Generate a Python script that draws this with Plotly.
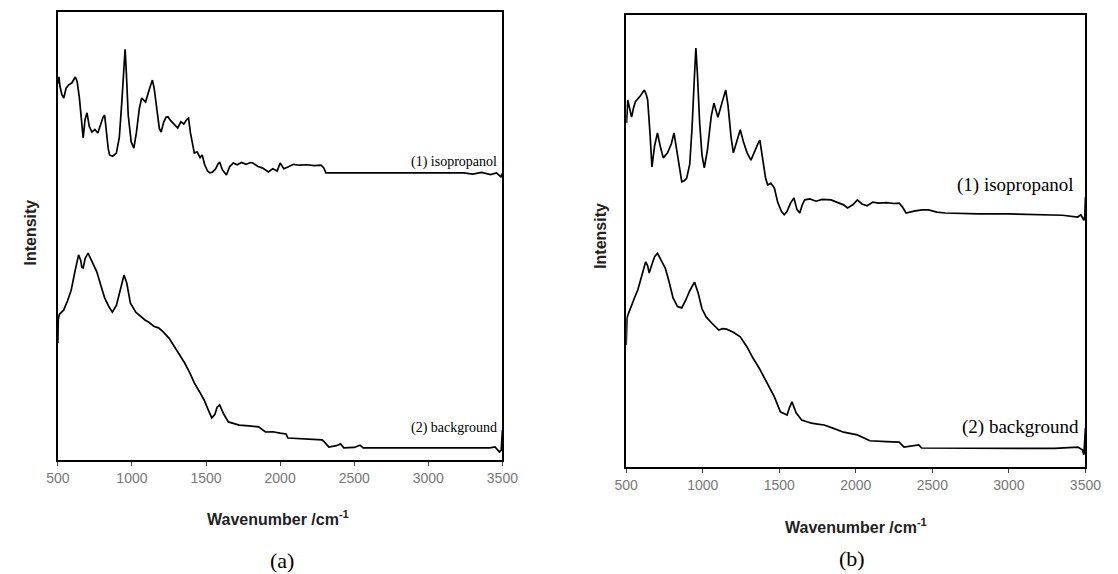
import plotly.graph_objects as go

# ---------------- data ----------------
# Panel (a)
wn_a_iso = [500, 507, 515, 528, 540, 556, 572, 595, 618, 630, 645, 660, 671, 684, 697, 712, 730, 750, 770, 790,
            805, 816, 828, 840, 849, 870, 895, 915, 932, 945, 954, 963, 975, 995, 1013, 1030, 1050, 1066, 1080,
            1092, 1115, 1138, 1150, 1165, 1185, 1197, 1215, 1230, 1243, 1260, 1280, 1300, 1309, 1330, 1350,
            1370, 1382, 1395, 1410, 1421, 1440, 1460, 1474, 1490, 1510, 1526, 1545, 1565, 1580, 1592, 1610,
            1625, 1638, 1660, 1684, 1710, 1740, 1770, 1800, 1816, 1850, 1880, 1921, 1950, 1980, 2000, 2025,
            2053, 2090, 2130, 2180, 2230, 2276, 2295, 2309, 3237, 3300, 3360, 3420, 3460, 3490, 3500]
int_a_iso = [84.0, 85.5, 83.3, 81.5, 80.8, 83.0, 83.7, 84.2, 85.5, 84.5, 81.0, 75.0, 71.9, 76.0, 77.5, 74.5, 73.2,
             73.8, 73.0, 75.0, 76.5, 77.0, 73.0, 69.5, 68.1, 67.8, 68.5, 72.0, 80.0, 88.0, 91.7, 86.0, 77.0, 71.0,
             69.6, 73.0, 78.5, 80.8, 80.2, 79.9, 82.5, 84.8, 83.0, 79.0, 74.0, 73.2, 75.5, 76.5, 76.6, 75.8, 75.0,
             74.3, 74.1, 75.5, 75.0, 76.0, 76.3, 73.0, 69.8, 68.5, 68.8, 67.5, 68.1, 66.0, 64.5, 64.1, 64.3, 65.0,
             66.0, 66.5, 64.8, 64.0, 63.6, 65.5, 66.3, 65.9, 66.4, 66.0, 66.4, 66.3, 65.5, 65.2, 64.3, 65.0, 64.5,
             66.3, 65.0, 65.4, 66.0, 65.8, 65.9, 65.7, 65.8, 65.2, 64.1, 64.1, 63.8, 64.2, 63.7, 64.1, 63.2, 64.0]

wn_a_bg = [500, 503, 510, 540, 565, 590, 615, 640, 655, 662, 671, 685, 704, 720, 740, 763, 790, 816, 845, 868,
           895, 920, 947, 965, 990, 1026, 1060, 1090, 1112, 1150, 1180, 1211, 1250, 1289, 1320, 1355, 1390, 1421,
           1455, 1487, 1515, 1539, 1560, 1575, 1592, 1620, 1651, 1690, 1724, 1790, 1855, 1901, 1950, 2000, 2040,
           2053, 2150, 2283, 2300, 2329, 2380, 2408, 2430, 2500, 2539, 2560, 3000, 3414, 3450, 3480, 3492, 3500]
int_a_bg = [26.1, 31.3, 32.5, 33.5, 35.5, 37.9, 42.0, 45.8, 44.5, 43.0, 42.9, 45.0, 46.2, 45.0, 43.8, 42.0, 39.0,
            36.2, 34.2, 33.0, 34.5, 38.0, 41.3, 39.5, 35.0, 33.0, 32.0, 31.2, 30.8, 29.8, 29.5, 28.6, 27.2, 25.2,
            23.5, 21.7, 19.5, 17.2, 15.3, 13.4, 11.2, 9.4, 10.2, 11.8, 12.3, 10.2, 8.5, 8.2, 7.8, 7.6, 7.4, 6.25,
            6.3, 6.0, 5.8, 4.9, 4.7, 4.5, 4.0, 2.9, 3.2, 3.6, 2.7, 2.8, 3.3, 2.7, 2.7, 2.7, 2.9, 1.8, 2.2, 6.7]

# Panel (b)
wn_b_iso = [500, 502, 510, 522, 535, 548, 560, 590, 618, 630, 640, 655, 668, 685, 704, 722, 742, 770, 795, 812,
            830, 850, 863, 880, 895, 915, 930, 945, 955, 965, 980, 995, 1010, 1030, 1055, 1073, 1085, 1099, 1125,
            1150, 1165, 1185, 1200, 1220, 1245, 1265, 1290, 1315, 1340, 1360, 1373, 1390, 1410, 1424, 1445, 1468,
            1490, 1515, 1532, 1550, 1575, 1596, 1615, 1634, 1650, 1666, 1700, 1740, 1780, 1838, 1880, 1920, 1946,
            1980, 2010, 2040, 2074, 2111, 2150, 2200, 2250, 2283, 2305, 2328, 2380, 2430, 2475, 2530, 2583, 2800,
            3000, 3200, 3350, 3449, 3470, 3490, 3496, 3500]
int_b_iso = [78.0, 76.1, 81.2, 79.0, 77.4, 79.5, 80.8, 82.0, 83.4, 82.5, 81.2, 74.0, 66.4, 71.0, 73.9, 71.0, 68.4,
             69.5, 71.5, 73.9, 70.0, 65.0, 63.1, 63.3, 63.9, 67.0, 75.0, 86.0, 92.7, 87.0, 76.0, 69.0, 66.2, 70.0,
             77.5, 80.5, 79.0, 77.4, 80.5, 83.4, 80.0, 73.0, 69.5, 72.0, 74.6, 72.0, 69.5, 67.9, 70.0, 71.5, 72.3,
             68.5, 64.0, 62.4, 62.8, 61.7, 58.5, 56.5, 55.8, 56.5, 58.5, 59.5, 57.0, 56.2, 58.0, 59.1, 59.3, 58.8,
             59.2, 59.1, 58.5, 58.0, 57.3, 58.0, 59.1, 58.2, 57.8, 58.6, 58.4, 58.5, 58.3, 58.4, 57.5, 56.2, 56.6,
             56.9, 56.9, 56.4, 56.2, 56.0, 56.0, 55.8, 55.7, 55.3, 55.8, 54.6, 55.5, 59.7]

wn_b_bg = [500, 505, 515, 533, 555, 576, 600, 627, 640, 650, 665, 685, 704, 725, 755, 780, 806, 835, 863, 890,
           915, 946, 970, 995, 1022, 1060, 1105, 1130, 1156, 1200, 1245, 1290, 1328, 1370, 1411, 1440, 1468,
           1507, 1530, 1551, 1565, 1583, 1610, 1646, 1680, 1710, 1750, 1793, 1850, 1920, 2010, 2092, 2200, 2283,
           2315, 2360, 2411, 2430, 2600, 3000, 3194, 3300, 3450, 3480, 3490, 3496, 3500]
int_b_bg = [27.0, 33.0, 34.0, 35.4, 37.5, 39.2, 42.0, 45.4, 44.5, 42.9, 44.5, 46.5, 47.3, 46.0, 44.0, 41.0, 37.4,
            35.5, 35.2, 37.0, 39.0, 40.9, 38.5, 35.0, 33.2, 31.8, 30.3, 30.6, 30.5, 29.8, 28.8, 26.5, 24.1, 21.8,
            19.2, 17.5, 15.5, 12.2, 11.8, 11.5, 13.0, 14.4, 12.0, 10.4, 10.0, 9.7, 9.5, 9.3, 8.6, 7.7, 7.1, 5.8,
            5.6, 5.5, 4.4, 4.7, 4.9, 4.2, 4.2, 4.2, 4.2, 4.1, 4.4, 3.8, 2.7, 6.0, 8.6]

x_ticks = [500, 1000, 1500, 2000, 2500, 3000, 3500]
x_title = "Wavenumber /cm<sup>-1</sup>"
y_title = "Intensity"
labels_iso = "(1) isopropanol"
labels_bg = "(2) background"
panel_labels = ["(a)", "(b)"]

# ---------------- figure ----------------
W, H = 1118, 574
fig = go.Figure()
line = dict(color="black", width=1.7)
fig.add_trace(go.Scatter(x=wn_a_iso, y=int_a_iso, mode="lines", line=line, xaxis="x", yaxis="y"))
fig.add_trace(go.Scatter(x=wn_a_bg, y=int_a_bg, mode="lines", line=line, xaxis="x", yaxis="y"))
fig.add_trace(go.Scatter(x=wn_b_iso, y=int_b_iso, mode="lines", line=line, xaxis="x2", yaxis="y2"))
fig.add_trace(go.Scatter(x=wn_b_bg, y=int_b_bg, mode="lines", line=line, xaxis="x2", yaxis="y2"))

def px(v):
    return v / W

def py(v):
    return 1 - v / H

xax = dict(range=[500, 3500], tickvals=x_ticks, ticks="outside", ticklen=4, tickcolor="#444",
           tickwidth=1, showline=True, linecolor="black", linewidth=2, mirror=True, showgrid=False,
           zeroline=False, tickfont=dict(family="Liberation Sans, Arial", size=14, color="#777"))
yax = dict(range=[0, 100], showticklabels=False, ticks="", showline=True, linecolor="black", linewidth=2,
           mirror=True, showgrid=False, zeroline=False)

fig.update_layout(
    width=W, height=H, margin=dict(l=0, r=0, t=0, b=0),
    paper_bgcolor="white", plot_bgcolor="white", showlegend=False,
    xaxis=dict(xax, domain=[px(47), px(503)], anchor="y"),
    yaxis=dict(yax, domain=[py(460), py(12)], anchor="x"),
    xaxis2=dict(xax, domain=[px(630), px(1101)], anchor="y2"),
    yaxis2=dict(yax, domain=[py(467), py(15)], anchor="x2"),
)

serif = "Liberation Serif, Times New Roman, serif"
sans = "Liberation Sans, Arial, sans-serif"
ann = [
    dict(text=labels_iso, x=px(499), y=py(162), xanchor="right", yanchor="middle",
         font=dict(family=serif, size=14, color="black")),
    dict(text=labels_bg, x=px(500), y=py(428), xanchor="right", yanchor="middle",
         font=dict(family=serif, size=14, color="black")),
    dict(text=labels_iso, x=px(1091), y=py(185), xanchor="right", yanchor="middle",
         font=dict(family=serif, size=19, color="black")),
    dict(text=labels_bg, x=px(1096), y=py(427), xanchor="right", yanchor="middle",
         font=dict(family=serif, size=19, color="black")),
    dict(text="<b>" + x_title + "</b>", x=px(273), y=py(518), xanchor="center", yanchor="middle",
         font=dict(family=sans, size=16, color="#222")),
    dict(text="<b>" + x_title + "</b>", x=px(866), y=py(526), xanchor="center", yanchor="middle",
         font=dict(family=sans, size=16, color="#222")),
    dict(text="<b>" + y_title + "</b>", x=px(18), y=py(233), xanchor="center", yanchor="middle", textangle=-90,
         font=dict(family=sans, size=16, color="#222")),
    dict(text="<b>" + y_title + "</b>", x=px(604), y=py(236), xanchor="center", yanchor="middle", textangle=-90,
         font=dict(family=sans, size=16, color="#222")),
    dict(text=panel_labels[0], x=px(277), y=py(560), xanchor="center", yanchor="middle",
         font=dict(family=serif, size=22, color="black")),
    dict(text=panel_labels[1], x=px(862), y=py(558), xanchor="center", yanchor="middle",
         font=dict(family=serif, size=22, color="black")),
]
for a in ann:
    a.update(xref="paper", yref="paper", showarrow=False)
fig.update_layout(annotations=ann)

fig.write_html("out.html")
